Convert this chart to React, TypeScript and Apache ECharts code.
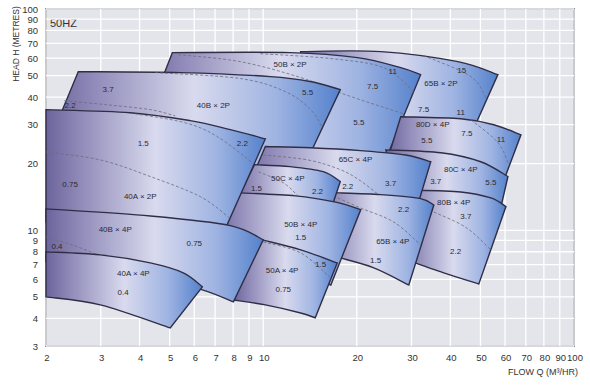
import React, { useEffect, useRef } from "react";
import * as echarts from "echarts";

const xTicks = [2, 3, 4, 5, 6, 7, 8, 9, 10, 20, 30, 40, 50, 60, 70, 80, 90, 100];
const yTicks = [3, 4, 5, 6, 7, 8, 9, 10, 20, 30, 40, 50, 60, 70, 80, 90, 100];

// drawing order: back to front
const regionNames = ["65B×2P", "50B×2P", "40B×2P", "80D×4P", "80C×4P", "80B×4P", "65C×4P", "65B×4P", "50C×4P", "50B×4P", "50A×4P", "40A×2P", "40B×4P", "40A×4P"];

// upper boundary (max impeller), left -> right, [Q m3/h, H m]
const regionTops: number[][][] = [
  [[13.2, 64.2], [23.9, 64.2], [42.3, 57.8], [56.9, 50.5]],
  [[5.1, 63.5], [12.2, 63.5], [20.1, 60.3], [27.7, 54.3], [32.1, 50.5]],
  [[2.54, 52.1], [5.41, 51.6], [10.55, 49.5], [14.2, 47.0], [17.7, 43.2]],
  [[27.7, 32.6], [43.2, 31.9], [55.2, 30.0], [67.5, 27.0]],
  [[24.8, 23.1], [37.3, 22.4], [50.1, 20.4], [61.3, 17.5]],
  [[28.7, 15.2], [43.2, 14.9], [54.0, 14.0], [60.4, 12.8]],
  [[10.16, 23.9], [14.2, 23.6], [20.6, 22.9], [28.7, 21.9], [34.6, 20.4]],
  [[16.8, 14.8], [23.9, 14.5], [32.1, 13.9], [35.4, 13.0]],
  [[9.37, 19.8], [12.2, 19.4], [15.6, 18.4], [17.7, 16.6]],
  [[7.96, 14.8], [12.7, 14.3], [17.1, 13.4], [20.6, 12.4]],
  [[9.94, 9.05], [13.2, 8.16], [17.3, 7.12]],
  [[2.0, 35.1], [3.73, 34.0], [5.82, 31.3], [7.84, 28.5], [10.16, 25.9]],
  [[2.0, 12.5], [4.33, 11.6], [7.84, 10.5], [10.0, 9.05]],
  [[2.0, 7.99], [2.99, 7.74], [4.33, 7.12], [5.53, 6.42], [6.37, 5.55]],
];

// lower boundary (min impeller), right -> left
const regionBottoms: number[][][] = [
  [[46.6, 27.0], [25.7, 30.0], [12.7, 36.9]],
  [[24.4, 19.8], [13.2, 21.3], [6.27, 23.6], [3.96, 25.6]],
  [[13.4, 18.8], [9.09, 19.2], [6.27, 20.8], [2.03, 24.4]],
  [[59.9, 17.3], [40.1, 19.8], [25.1, 20.8]],
  [[57.7, 12.1], [40.1, 13.7], [26.7, 14.5]],
  [[49.4, 5.72], [38.1, 6.42], [27.7, 7.5]],
  [[30.7, 11.7], [17.7, 12.4], [8.57, 13.7]],
  [[29.4, 5.66], [22.7, 6.76], [17.7, 7.5], [14.7, 7.99]],
  [[16.7, 13.0], [12.2, 13.3], [8.08, 13.0]],
  [[16.5, 5.66], [12.2, 6.62], [7.01, 7.74]],
  [[14.7, 4.02], [13.2, 4.23], [10.16, 4.6], [8.02, 4.84]],
  [[7.28, 9.05], [4.33, 10.05], [2.0, 10.9]],
  [[8.02, 4.75], [6.37, 5.38], [4.33, 6.22], [2.0, 7.2]],
  [[5.02, 3.62], [2.99, 4.6], [2.0, 5.0]],
];

// motor power boundaries (dashed)
const regionDashes: number[][][][] = [
  [[[32.8, 61.6], [46.6, 49.5], [52.4, 38.9]]],
  [[[5.33, 62.2], [8.44, 57.8], [13.2, 49.0], [18.4, 41.0], [28.3, 33.6]], [[9.79, 62.8], [16.5, 59.7], [24.4, 54.3], [30.5, 42.3]]],
  [[[2.29, 38.5], [3.15, 36.9], [4.33, 35.1], [5.21, 32.9]], [[4.49, 51.6], [8.44, 48.5], [11.8, 42.3], [14.2, 35.1], [15.5, 29.1]]],
  [[[46.6, 31.6], [56.9, 24.9], [61.7, 19.8]]],
  [],
  [[[35.4, 12.1], [44.9, 10.3], [54.0, 8.16]]],
  [[[10.0, 21.9], [13.9, 20.8], [17.7, 18.8], [20.6, 16.7], [23.9, 14.2]]],
  [[[16.8, 14.3], [20.6, 12.6], [26.3, 10.9], [32.1, 8.59]]],
  [[[9.65, 18.4], [11.6, 16.4], [13.0, 14.2]]],
  [],
  [[[10.0, 8.86], [13.2, 7.9], [16.5, 6.09]]],
  [[[2.0, 22.6], [2.99, 20.8], [4.33, 17.5], [6.27, 14.2], [7.78, 11.4]], [[3.87, 33.6], [5.61, 30.6], [7.12, 26.5], [9.3, 20.0]]],
  [[[2.0, 9.34], [2.48, 8.5], [2.99, 7.66]]],
  [],
];

// labels: [text, Q, H]
const regionLabels: [string, number, number][][] = [
  [["15", 43.5, 52.7], ["65B × 2P", 37.3, 46.0], ["7.5", 32.8, 35.1], ["11", 43.2, 34.0]],
  [["50B × 2P", 12.2, 56.0], ["11", 26.1, 52.1], ["7.5", 22.5, 44.6], ["5.5", 20.3, 30.6]],
  [["2.2", 2.39, 36.6], ["3.7", 3.17, 43.2], ["40B × 2P", 6.91, 36.6], ["5.5", 13.9, 41.9]],
  [["80D × 4P", 35.1, 30.0], ["5.5", 33.6, 25.4], ["7.5", 45.2, 27.3], ["11", 58.2, 25.6]],
  [["80C × 4P", 43.2, 18.8], ["3.7", 35.9, 16.6], ["5.5", 54.0, 16.4]],
  [["80B × 4P", 41.0, 13.4], ["3.7", 44.9, 11.5], ["2.2", 41.6, 7.99]],
  [["65C × 4P", 19.8, 20.8], ["2.2", 18.7, 15.7], ["3.7", 25.7, 16.2]],
  [["65B × 4P", 26.1, 8.86], ["2.2", 28.3, 12.4], ["1.5", 23.0, 7.27]],
  [["50C × 4P", 12.0, 17.1], ["1.5", 9.51, 15.4], ["2.2", 14.95, 14.9]],
  [["50B × 4P", 13.2, 10.6], ["1.5", 13.2, 9.25]],
  [["50A × 4P", 11.5, 6.55], ["0.75", 11.6, 5.38], ["1.5", 15.3, 6.98]],
  [["1.5", 4.11, 24.6], ["0.75", 2.39, 16.1], ["2.2", 8.57, 24.6], ["40A × 2P", 4.02, 14.2]],
  [["40B × 4P", 3.34, 10.05], ["0.4", 2.17, 8.41], ["0.75", 6.0, 8.68]],
  [["40A × 4P", 3.82, 6.35], ["0.4", 3.54, 5.21]],
];

const X_MIN = 2, X_MAX = 100, Y_MIN = 3, Y_MAX = 100;

function curve(pts: number[][]): string {
  let d = "";
  for (let i = 0; i < pts.length - 1; i++) {
    const p0 = pts[i - 1] || pts[i];
    const p1 = pts[i];
    const p2 = pts[i + 1];
    const p3 = pts[i + 2] || p2;
    const c1x = p1[0] + (p2[0] - p0[0]) / 6, c1y = p1[1] + (p2[1] - p0[1]) / 6;
    const c2x = p2[0] - (p3[0] - p1[0]) / 6, c2y = p2[1] - (p3[1] - p1[1]) / 6;
    d += ` C ${c1x} ${c1y} ${c2x} ${c2y} ${p2[0]} ${p2[1]}`;
  }
  return d;
}

export default function App() {
  const ref = useRef<HTMLDivElement>(null);
  useEffect(() => {
    const chart = echarts.init(ref.current!, null, { renderer: "svg" });
    const sans = "'Liberation Sans', Arial, sans-serif";
    const narrow = "'Liberation Sans Narrow', 'Liberation Sans', Arial, sans-serif";

    const option: any = {
      animation: false,
      grid: {
        left: 46, right: 16, top: 9, bottom: 39, show: true,
        backgroundColor: "#e3e5ea", borderColor: "#3a3a42", borderWidth: 1.5,
      },
      xAxis: {
        type: "log", min: X_MIN, max: X_MAX, logBase: 10,
        axisLine: { show: false }, axisTick: { show: false }, axisLabel: { show: false }, splitLine: { show: false },
      },
      yAxis: {
        type: "log", min: Y_MIN, max: Y_MAX, logBase: 10,
        axisLine: { show: false }, axisTick: { show: false }, axisLabel: { show: false }, splitLine: { show: false },
      },
      graphic: [
        { type: "text", left: 50, top: 17, style: { text: "50HZ", fill: "#333", font: `11px ${sans}` } },
        {
          type: "text", x: 16, y: 44, rotation: Math.PI / 2,
          style: { text: "HEAD H (METRES)", fill: "#333", font: `8.5px ${narrow}`, align: "center", verticalAlign: "middle" },
        },
        {
          type: "text", x: 543, y: 372,
          style: { text: "FLOW Q (M³/HR)", fill: "#333", font: `9px ${narrow}`, align: "center", verticalAlign: "middle" },
        },
      ],
      series: [
        {
          type: "custom", silent: true,
          data: xTicks.map((v) => [v, Y_MIN]),
          renderItem: (params: any, api: any) => {
            const v = api.value(0);
            const a = api.coord([v, Y_MIN]);
            const b = api.coord([v, Y_MAX]);
            return {
              type: "group",
              children: [
                { type: "line", shape: { x1: a[0], y1: a[1], x2: b[0], y2: b[1] }, style: { stroke: "#ffffff", lineWidth: 1.3 } },
                { type: "text", x: a[0] + 1, y: a[1] + 11, style: { text: String(v), fill: "#333", font: `9.5px ${narrow}`, align: "center", verticalAlign: "middle" } },
              ],
            };
          },
        },
        {
          type: "custom", silent: true,
          data: yTicks.map((v) => [X_MIN, v]),
          renderItem: (params: any, api: any) => {
            const v = api.value(1);
            const a = api.coord([X_MIN, v]);
            const b = api.coord([X_MAX, v]);
            return {
              type: "group",
              children: [
                { type: "line", shape: { x1: a[0], y1: a[1], x2: b[0], y2: b[1] }, style: { stroke: "#ffffff", lineWidth: 1.3 } },
                { type: "text", x: a[0] - 8, y: a[1], style: { text: String(v), fill: "#333", font: `9.5px ${narrow}`, align: "right", verticalAlign: "middle" } },
              ],
            };
          },
        },
        {
          type: "custom", silent: true,
          data: regionNames.map((n, i) => [X_MIN, Y_MIN, i]),
          renderItem: (params: any, api: any) => {
            const i = api.value(2) as number;
            const top = regionTops[i].map((p) => api.coord(p));
            const bot = regionBottoms[i].map((p) => api.coord(p));
            const d = `M ${top[0][0]} ${top[0][1]}` + curve(top) + ` L ${bot[0][0]} ${bot[0][1]}` + curve(bot) + " Z";
            const grad = new echarts.graphic.LinearGradient(0, 0, 1, 0, [
              { offset: 0, color: "#6b649b" },
              { offset: 0.12, color: "#8882b3" },
              { offset: 0.5, color: "#d9daee" },
              { offset: 0.78, color: "#9fb4e2" },
              { offset: 1, color: "#5481cc" },
            ]);
            const children: any[] = [
              { type: "path", shape: { pathData: d }, style: { fill: grad, stroke: "#302e46", lineWidth: 1.4 } },
            ];
            regionDashes[i].forEach((line) => {
              const pts = line.map((p) => api.coord(p));
              children.push({
                type: "path",
                shape: { pathData: `M ${pts[0][0]} ${pts[0][1]}` + curve(pts) },
                style: { fill: "none", stroke: "#6c6c7c", lineWidth: 0.8, lineDash: [3, 2] },
              });
            });
            regionLabels[i].forEach(([t, q, h]) => {
              const p = api.coord([q, h]);
              children.push({
                type: "text", x: p[0], y: p[1],
                style: { text: t, fill: "#2b2b33", font: `8px ${sans}`, align: "center", verticalAlign: "middle" },
              });
            });
            return { type: "group", children };
          },
        },
      ],
    };
    chart.setOption(option);
    return () => chart.dispose();
  }, []);
  return <div ref={ref} style={{ position: "fixed", left: 0, top: 0, width: 590, height: 385, background: "#fff" }} />;
}
